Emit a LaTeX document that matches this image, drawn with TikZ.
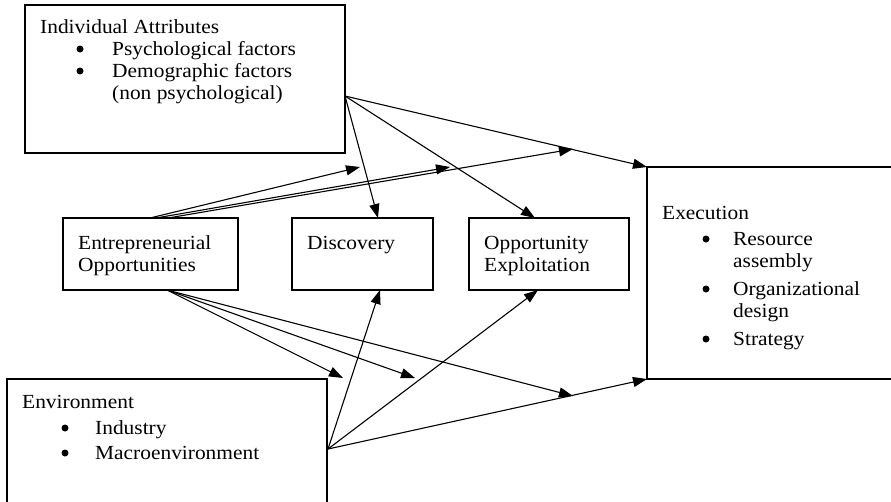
\documentclass[tikz,border=0pt]{standalone}
\usepackage{fontspec}
\setmainfont{Liberation Serif}[FakeStretch=1.07]
\usetikzlibrary{arrows.meta}
\tikzset{
  box/.style={draw, line width=1.2pt, rectangle, inner sep=0pt},
  txt/.style={anchor=base west, inner sep=0pt, font=\fontsize{20}{22}\selectfont},
  bul/.style={circle, fill, inner sep=0pt, minimum size=7pt},
  arr/.style={line width=1.1pt, -{Triangle[length=14pt,width=10pt]}}
}
\begin{document}
\begin{tikzpicture}[x=1pt,y=-1pt]
\clip (0,0) rectangle (891,501);
\fill[white] (0,0) rectangle (891,501);
% boxes
\node[box, minimum width=320pt, minimum height=148pt] (IA) at (185,79) {};
\node[box, minimum width=175pt, minimum height=72pt] (EO) at (150.5,254) {};
\node[box, minimum width=141pt, minimum height=72pt] (DI) at (362.5,254) {};
\node[box, minimum width=160pt, minimum height=72pt] (OE) at (549,254) {};
\node[box, minimum width=400pt, minimum height=212pt] (EX) at (847,273) {};
\node[box, minimum width=320pt, minimum height=240pt] (EN) at (167,499) {};
% texts
\node[txt] (ia0) at (40,33) {Individual Attributes};
\node[bul] (iab1) at (80,49) {};
\node[txt] (ia1) at (112,55) {Psychological factors};
\node[bul] (iab2) at (80,71) {};
\node[txt] (ia2) at (112,77) {Demographic factors};
\node[txt] (ia3) at (112,99) {(non psychological)};
\node[txt] (eo1) at (78,249) {Entrepreneurial};
\node[txt] (eo2) at (78,271) {Opportunities};
\node[txt] (di1) at (307,249) {Discovery};
\node[txt] (oe1) at (484,249) {Opportunity};
\node[txt] (oe2) at (484,271) {Exploitation};
\node[txt] (ex0) at (662,219) {Execution};
\node[bul] (exb1) at (706,239) {};
\node[txt] (ex1) at (733,245) {Resource};
\node[txt] (ex2) at (733,267) {assembly};
\node[bul] (exb3) at (706,289) {};
\node[txt] (ex3) at (733,295) {Organizational};
\node[txt] (ex4) at (733,317) {design};
\node[bul] (exb5) at (706,339) {};
\node[txt] (ex5) at (733,345) {Strategy};
\node[txt] (en0) at (22,408) {Environment};
\node[bul] (enb1) at (65,428) {};
\node[txt] (en1) at (95,434) {Industry};
\node[bul] (enb2) at (65,453) {};
\node[txt] (en2) at (95,459) {Macroenvironment};
% connector end points
\coordinate (iaO) at (345,96);
\coordinate (diT) at (378,218);
\coordinate (oeT) at (535,218);
\coordinate (exT) at (647,167);
\coordinate (eoU1) at (150,218);
\coordinate (eoU2) at (156,218);
\coordinate (eoU3) at (168,218);
\coordinate (m1) at (360,167);
\coordinate (m2) at (450,167);
\coordinate (m3) at (573,149);
\coordinate (eoB) at (167,290);
\coordinate (m4) at (343,378);
\coordinate (m5) at (415,378);
\coordinate (m6) at (573,396);
\coordinate (enO) at (328,449);
\coordinate (diB) at (380,290);
\coordinate (oeB) at (538,290);
\coordinate (exB) at (647,379);
% arrows
\draw[arr] (iaO) -- (diT);
\draw[arr] (iaO) -- (oeT);
\draw[arr] (iaO) -- (exT);
\draw[arr] (eoU1) -- (m1);
\draw[arr] (eoU2) -- (m2);
\draw[arr] (eoU3) -- (m3);
\draw[arr] (eoB) -- (m4);
\draw[arr] (eoB) -- (m5);
\draw[arr] (eoB) -- (m6);
\draw[arr] (enO) -- (diB);
\draw[arr] (enO) -- (oeB);
\draw[arr] (enO) -- (exB);
\end{tikzpicture}
\end{document}
